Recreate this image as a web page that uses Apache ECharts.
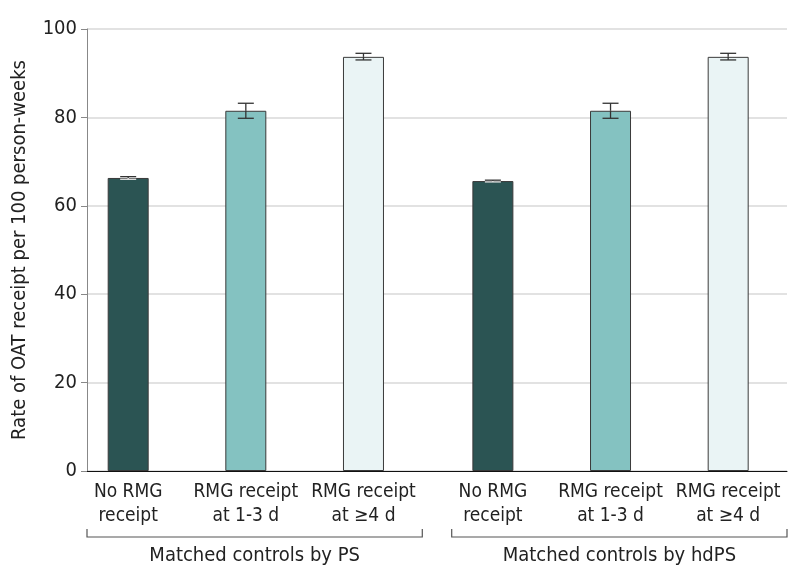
<!DOCTYPE html>
<html>
<head>
<meta charset="utf-8">
<script src="https://cdn.jsdelivr.net/npm/echarts@6/dist/echarts.min.js"></script>
<style>
	html, body { margin: 0; padding: 0; background: #fff; }
	#chart { width: 794px; height: 584px; }
</style>
</head>
<body>
<div id="chart"></div>
<script>
var chart = echarts.init(document.getElementById('chart'));

// data
var categories = ['No RMG\nreceipt', 'RMG receipt\nat 1-3 d', 'RMG receipt\nat ≥4 d'];
var groups = ['Matched controls by PS', 'Matched controls by hdPS'];
var rates = [66.3, 81.5, 93.7, 65.6, 81.5, 93.7];
var lower = [66.0, 79.8, 93.0, 65.4, 79.8, 93.0];
var upper = [66.6, 83.2, 94.5, 65.8, 83.2, 94.5];
var yTicks = [0, 20, 40, 60, 80, 100];

var barColors = ['#2b5453', '#84c2c1', '#eaf4f5'];
var FONT = 'DejaVu Sans Condensed';
var groupGap = 0.1; // extra space between the two groups

// x position of each bar: group index * (3 + gap) + index in group
function posOf(i) {
	var g = Math.floor(i / categories.length);
	return g * (categories.length + groupGap) + (i % categories.length);
}

var barData = rates.map(function (v, i) {
	return {
		value: [posOf(i), v],
		name: categories[i % categories.length],
		itemStyle: { color: barColors[i % barColors.length] }
	};
});

var errData = rates.map(function (v, i) {
	return [posOf(i), lower[i], upper[i], v];
});

var groupData = groups.map(function (name, g) {
	var first = posOf(g * categories.length);
	var last = posOf(g * categories.length + categories.length - 1);
	return [first - 0.35, last + 0.5, name];
});

var option = {
	animation: false,
	grid: { left: 87, right: 7, top: 29, bottom: 113 },
	xAxis: {
		type: 'value',
		min: -0.35,
		max: 5.6,
		axisLine: { lineStyle: { color: '#111', width: 1 } },
		axisTick: { show: false },
		axisLabel: { show: false },
		splitLine: { show: false }
	},
	yAxis: {
		type: 'value',
		min: yTicks[0],
		max: yTicks[yTicks.length - 1],
		interval: 20,
		name: 'Rate of OAT receipt per 100 person-weeks',
		nameLocation: 'middle',
		nameGap: 57,
		nameTextStyle: { fontFamily: FONT, fontSize: 20, color: '#222' },
		axisLine: { show: true, onZero: false, lineStyle: { color: '#888' } },
		axisTick: { show: true, length: 6, lineStyle: { color: '#888' } },
		axisLabel: { fontFamily: FONT, fontSize: 20, color: '#222', margin: 10 },
		splitLine: { lineStyle: { color: '#d9d9d9', width: 1.5 } }
	},
	series: [{
		type: 'bar',
		barWidth: 41,
		data: barData,
		itemStyle: { borderColor: '#3a3a3a', borderWidth: 1 },
		label: {
			show: true,
			position: 'bottom',
			distance: 9,
			formatter: '{b}',
			fontFamily: FONT,
			fontSize: 19,
			lineHeight: 24,
			color: '#222',
			align: 'center'
		}
	}, {
		type: 'custom',
		data: errData,
		z: 5,
		renderItem: function (params, api) {
			var x = api.value(0);
			var lo = api.coord([x, api.value(1)]);
			var hi = api.coord([x, api.value(2)]);
			var mid = api.coord([x, api.value(3)]);
			var dark = params.dataIndex % categories.length === 0;
			var w = 8;
			var top = { stroke: '#333', lineWidth: 1.3 };
			var bot = { stroke: dark ? '#e6e6e6' : '#333', lineWidth: 1.3 };
			return {
				type: 'group',
				children: [
					{ type: 'line', shape: { x1: hi[0], y1: hi[1], x2: mid[0], y2: mid[1] }, style: top },
					{ type: 'line', shape: { x1: hi[0] - w, y1: hi[1], x2: hi[0] + w, y2: hi[1] }, style: top },
					{ type: 'line', shape: { x1: mid[0], y1: mid[1], x2: lo[0], y2: lo[1] }, style: bot },
					{ type: 'line', shape: { x1: lo[0] - w, y1: lo[1], x2: lo[0] + w, y2: lo[1] }, style: bot }
				]
			};
		}
	}, {
		type: 'custom',
		data: groupData,
		clip: false,
		silent: true,
		renderItem: function (params, api) {
			var a = api.coord([api.value(0), 0]);
			var b = api.coord([api.value(1), 0]);
			var y = a[1] + 66;
			return {
				type: 'group',
				children: [{
					type: 'polyline',
					shape: { points: [[a[0], y - 8], [a[0], y], [b[0], y], [b[0], y - 8]] },
					style: { stroke: '#555', lineWidth: 1.2, fill: null }
				}, {
					type: 'text',
					style: {
						x: (a[0] + b[0]) / 2,
						y: y + 19,
						text: api.value(2),
						fontFamily: FONT,
						fontSize: 20,
						fill: '#222',
						align: 'center',
						verticalAlign: 'middle'
					}
				}]
			};
		}
	}]
};

chart.setOption(option);
</script>
</body>
</html>
